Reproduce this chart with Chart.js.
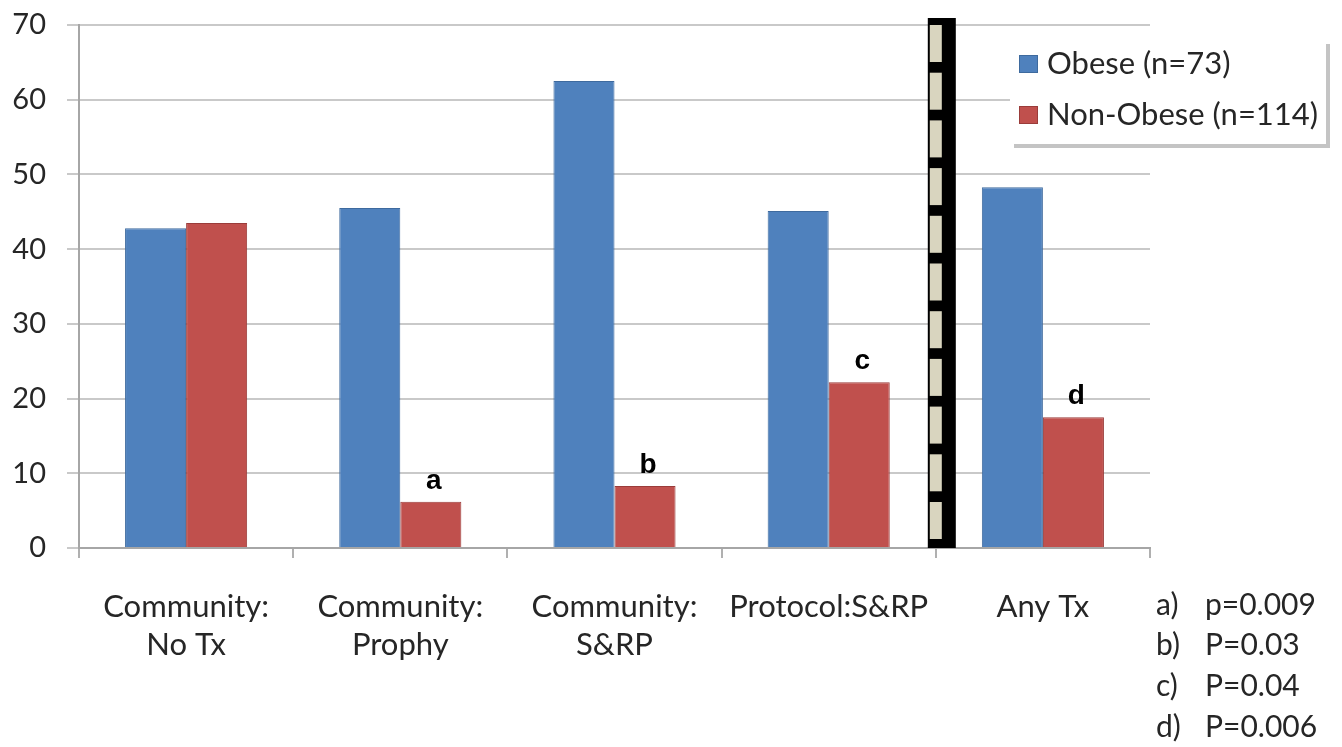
<!DOCTYPE html>
<html>
<head>
<meta charset="utf-8">
<script src="https://cdn.jsdelivr.net/npm/chart.js@4/dist/chart.umd.min.js"></script>
<style>
	html, body { margin: 0; padding: 0; background: #fff; }
	#wrap { width: 1342px; height: 747px; position: relative; }
</style>
</head>
<body>
<div id="wrap"><canvas id="chart-obesity"></canvas></div>
<script>
// data
const CATEGORIES = [
	["Community:", "No Tx"],
	["Community:", "Prophy"],
	["Community:", "S&RP"],
	"Protocol:S&RP",
	"Any Tx",
];
const OBESE = [42.8, 45.5, 62.5, 45.1, 48.3];
const NON_OBESE = [43.5, 6.2, 8.3, 22.2, 17.5];
const SIG_MARKS = ["", "a", "b", "c", "d"];
const FOOTNOTES = [
	["a)", "p=0.009"],
	["b)", "P=0.03"],
	["c)", "P=0.04"],
	["d)", "P=0.006"],
];
const SERIES_NAMES = ["Obese (n=73)", "Non-Obese (n=114)"];

const COLORS = {
	BLUE: "#4f81bd",
	BLUE_EDGE: "#3e6a9e",
	RED: "#c0504d",
	RED_EDGE: "#9a3c3a",
	GRID: "#c9c9c9",
	TEXT: "#262626",
	CREAM: "#d9d5bf",
};
const FONT = "Lato, 'Open Sans', sans-serif";

// extras drawn on top: separator column, significance letters, legend, footnotes
const extrasPlugin = {
	id: "extras",
	afterDatasetsDraw(chart) {
		const { ctx, scales } = chart;
		const x = scales.x;
		const y = scales.y;

		// dashed separator between Protocol and Any Tx
		const mid = (x.getPixelForValue(3) + x.getPixelForValue(4)) / 2;
		const top = y.top - 7;
		const bottom = y.getPixelForValue(0);
		ctx.save();
		ctx.fillStyle = "#000";
		ctx.fillRect(mid - 8, top, 28, bottom - top);
		ctx.fillStyle = COLORS.CREAM;
		for (let yy = top + 7; yy + 30 < bottom; yy += 47.7) {
			ctx.fillRect(mid - 6, yy, 12, Math.min(37, bottom - 6 - yy));
		}

		// letters above the non-obese bars
		const meta = chart.getDatasetMeta(1);
		ctx.fillStyle = "#000";
		ctx.font = "bold 28px 'Liberation Sans', Arial, sans-serif";
		ctx.textAlign = "center";
		ctx.textBaseline = "alphabetic";
		meta.data.forEach((bar, i) => {
			if (SIG_MARKS[i]) ctx.fillText(SIG_MARKS[i], bar.x + 3, bar.y - 13);
		});
		ctx.restore();
	},
	afterDraw(chart) {
		const { ctx } = chart;
		ctx.save();

		// legend box
		const lx = 1010, ly = 40, lw = 316, lh = 104;
		ctx.fillStyle = "#c4c4c4";
		ctx.fillRect(lx + 4, ly + 4, lw, lh);
		ctx.fillStyle = "#fff";
		ctx.fillRect(lx, ly, lw, lh);

		const swatches = [
			[COLORS.BLUE, COLORS.BLUE_EDGE],
			[COLORS.RED, COLORS.RED_EDGE],
		];
		ctx.font = "31px " + FONT;
		ctx.textBaseline = "middle";
		ctx.textAlign = "left";
		SERIES_NAMES.forEach((name, i) => {
			const cy = 64 + i * 51;
			ctx.fillStyle = swatches[i][0];
			ctx.fillRect(1019, cy - 9, 19, 18);
			ctx.strokeStyle = swatches[i][1];
			ctx.lineWidth = 1;
			ctx.strokeRect(1019.5, cy - 8.5, 18, 17);
			ctx.fillStyle = COLORS.TEXT;
			ctx.fillText(name, 1047, cy);
		});

		// footnotes for the letters
		ctx.font = "30px " + FONT;
		FOOTNOTES.forEach((row, i) => {
			const cy = 605 + i * 40.7;
			ctx.fillText(row[0], 1156, cy);
			ctx.fillText(row[1], 1205, cy);
		});
		ctx.restore();
	},
};

const CHART_DATA = {
	labels: CATEGORIES,
	datasets: [
		{
			label: SERIES_NAMES[0],
			data: OBESE,
			backgroundColor: COLORS.BLUE,
			borderColor: COLORS.BLUE_EDGE,
			borderWidth: 1,
		},
		{
			label: SERIES_NAMES[1],
			data: NON_OBESE,
			backgroundColor: COLORS.RED,
			borderColor: COLORS.RED_EDGE,
			borderWidth: 1,
		},
	],
};

const CHART_CONFIG = {
	type: "bar",
	data: CHART_DATA,
	plugins: [extrasPlugin],
	options: {
		responsive: true,
		maintainAspectRatio: false,
		animation: false,
		layout: {
			padding: { left: 0, right: 192, top: 25, bottom: 0 },
		},
		datasets: {
			bar: {
				barPercentage: 1,
				categoryPercentage: 0.57,
			},
		},
		plugins: {
			legend: { display: false },
			title: { display: false },
			tooltip: { enabled: false },
		},
		scales: {
			x: {
				afterFit: (scale) => {
					scale.height = 199;
				},
				border: { display: true, color: "#a6a6a6", width: 2 },
				grid: {
					display: true,
					offset: true,
					drawOnChartArea: false,
					drawTicks: true,
					tickLength: 10,
					color: "#b0b0b0",
					lineWidth: 2,
				},
				ticks: {
					color: COLORS.TEXT,
					padding: 30,
					maxRotation: 0,
					autoSkip: false,
					font: { family: FONT, size: 31, lineHeight: 1.22 },
				},
			},
			y: {
				min: 0,
				max: 70,
				afterFit: (scale) => {
					scale.width = 79;
					// the big tick padding should not push the plot down
					scale.paddingTop = 0;
					scale.paddingBottom = 0;
				},
				border: { display: true, color: "#a6a6a6", width: 2 },
				grid: {
					color: COLORS.GRID,
					lineWidth: 2,
					drawTicks: true,
					tickLength: 12,
				},
				ticks: {
					stepSize: 10,
					padding: 21,
					color: COLORS.TEXT,
					font: { family: FONT, size: 29 },
				},
			},
		},
	},
};

new Chart(document.getElementById("chart-obesity"), CHART_CONFIG);
</script>
</body>
</html>
